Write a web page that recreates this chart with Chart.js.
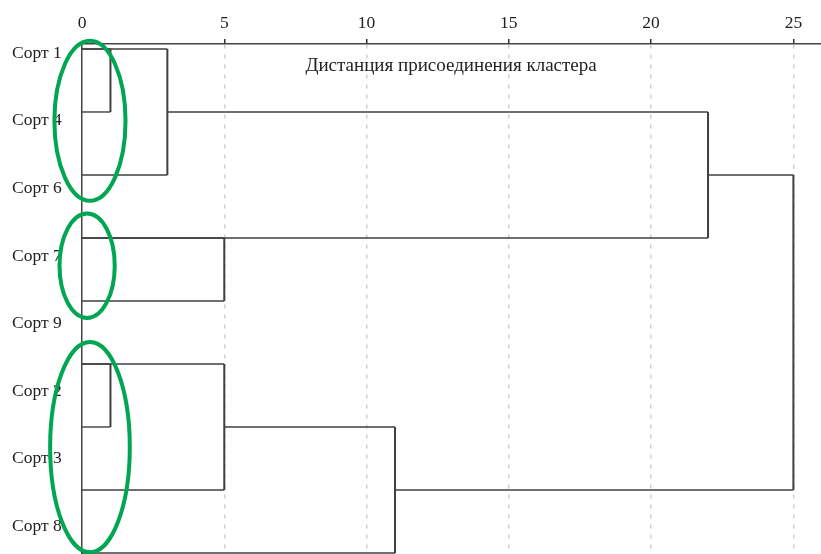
<!DOCTYPE html>
<html>
<head>
<meta charset="utf-8">
<script src="https://cdn.jsdelivr.net/npm/chart.js@4"></script>
<style>
  html, body { margin: 0; padding: 0; background: #fff; }
  #wrap { width: 821px; height: 554px; }
</style>
</head>
<body>
<div id="wrap"><canvas id="dendro"></canvas></div>
<script>
const sortLabels = ['Сорт 1', 'Сорт 4', 'Сорт 6', 'Сорт 7', 'Сорт 9', 'Сорт 2', 'Сорт 3', 'Сорт 8'];
const distanceTicks = [0, 5, 10, 15, 20, 25];
const axisTitle = 'Дистанция присоединения кластера';

// one bracket per merge: top arm (row, start), bottom arm (row, start), merge distance
const linkTopRow     = [0, 0, 1, 3, 5, 5, 6, 2];
const linkTopFrom    = [0, 0, 3, 0, 0, 0, 5, 22];
const linkBottomRow  = [1, 2, 3, 4, 6, 7, 8, 7];
const linkBottomFrom = [0, 0, 0, 0, 0, 0, 0, 11];
const linkDistance   = [1, 3, 22, 5, 1, 5, 11, 25];

// highlighted groups: centre and radii in axis units
const groupCx = [0.28, 0.18, 0.28];
const groupCy = [1.14, 3.44, 6.32];
const groupRx = [1.25, 0.97, 1.4];
const groupRy = [1.27, 0.83, 1.67];

const serif = '"Liberation Serif", "DejaVu Serif", serif';

const datasets = linkDistance.map((d, i) => ({
    data: [
        { x: linkTopFrom[i], y: linkTopRow[i] },
        { x: d, y: linkTopRow[i] },
        { x: d, y: linkBottomRow[i] },
        { x: linkBottomFrom[i], y: linkBottomRow[i] },
    ],
    showLine: true,
    borderColor: '#3f3f3f',
    borderWidth: 1.5,
    pointRadius: 0,
    clip: false,
    segment: {
        borderWidth: (ctx) => (ctx.p0.parsed.x === ctx.p1.parsed.x ? 2 : 1.4),
    },
}));

// axis caption under the top axis, plus the group outlines
const overlay = {
    id: 'overlay',
    afterDatasetsDraw(chart) {
        const { ctx, scales: { x, y } } = chart;
        ctx.save();
        ctx.font = '19px ' + serif;
        ctx.fillStyle = '#222';
        ctx.textAlign = 'center';
        ctx.textBaseline = 'middle';
        ctx.fillText(axisTitle, x.getPixelForValue(12.97), y.getPixelForValue(0.27));

        ctx.strokeStyle = '#00a651';
        ctx.lineWidth = 4;
        groupCx.forEach((cx, i) => {
            const px = x.getPixelForValue(cx);
            const py = y.getPixelForValue(groupCy[i]);
            const rx = Math.abs(x.getPixelForValue(cx + groupRx[i]) - px);
            const ry = Math.abs(y.getPixelForValue(groupCy[i] + groupRy[i]) - py);
            ctx.beginPath();
            ctx.ellipse(px, py, rx, ry, 0, 0, Math.PI * 2);
            ctx.stroke();
        });
        ctx.restore();
    },
};

new Chart(document.getElementById('dendro'), {
    type: 'scatter',
    data: { datasets },
    plugins: [overlay],
    options: {
        responsive: true,
        maintainAspectRatio: false,
        animation: false,
        layout: { padding: { left: 12, right: 0, top: 0, bottom: 0 } },
        plugins: {
            legend: { display: false },
            tooltip: { enabled: false },
        },
        scales: {
            x: {
                type: 'linear',
                position: 'top',
                min: 0,
                max: 25.97,
                afterBuildTicks: (s) => { s.ticks = distanceTicks.map((v) => ({ value: v })); },
                afterFit: (s) => { s.height = 44; },
                ticks: {
                    color: '#222',
                    padding: 5,
                    font: { family: serif, size: 17.5 },
                },
                grid: {
                    color: (ctx) => (ctx.tick && ctx.tick.value === 0 ? 'rgba(0,0,0,0)' : '#cdcfd6'),
                    tickColor: (ctx) => (ctx.tick && ctx.tick.value === 0 ? 'rgba(0,0,0,0)' : '#333'),
                    lineWidth: 1.5,
                    tickWidth: 1.5,
                    tickLength: 5,
                },
                border: { color: '#444', width: 1.5, dash: [4, 6] },
            },
            y: {
                type: 'linear',
                display: false,
                reverse: true,
                min: -0.079,
                max: 8.016,
            },
            yLab: {
                type: 'linear',
                position: 'left',
                reverse: true,
                min: -0.133,
                max: 7.407,
                afterBuildTicks: (s) => { s.ticks = sortLabels.map((_, i) => ({ value: i })); },
                afterFit: (s) => {
                    s.width = 70;
                    s.paddingTop = 0;
                    s.paddingBottom = 0;
                },
                ticks: {
                    color: '#222',
                    crossAlign: 'far',
                    font: { family: serif, size: 17.5 },
                    callback: (v) => sortLabels[v],
                },
                grid: { display: false },
                border: { display: true, color: '#444', width: 1.5 },
            },
        },
    },
});
</script>
</body>
</html>
